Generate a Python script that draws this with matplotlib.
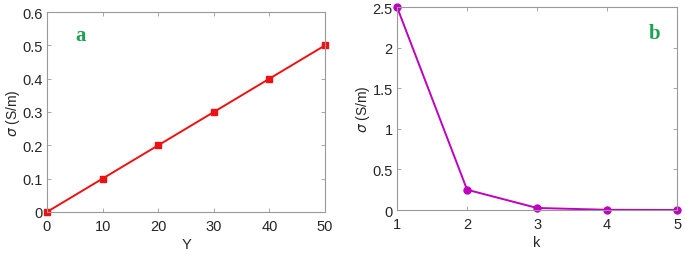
import matplotlib.pyplot as plt

# panel a: sigma vs Y
y_vals = [0, 10, 20, 30, 40, 50]
sigma_a = [0, 0.1, 0.2, 0.3, 0.4, 0.5]

# panel b: sigma vs k
k_vals = [1, 2, 3, 4, 5]
sigma_b = [2.5, 0.25, 0.025, 0.0025, 0.00025]

plt.rcParams['font.family'] = ['Liberation Sans', 'DejaVu Sans']
plt.rcParams['font.size'] = 10.5

fig = plt.figure(figsize=(6.85, 2.55), dpi=100)
ax1 = fig.add_axes([0.0686, 0.165, 0.406, 0.784])
ax2 = fig.add_axes([0.5796, 0.1725, 0.409, 0.796])

ax1.plot(y_vals, sigma_a, color='#ee1111', linewidth=1.4, marker='s', markersize=4.5)
ax1.set_xlim(0, 50)
ax1.set_ylim(0, 0.6)
ax1.set_xticks([0, 10, 20, 30, 40, 50])
ax1.set_yticks([0, 0.1, 0.2, 0.3, 0.4, 0.5, 0.6])
ax1.set_yticklabels(['0', '0.1', '0.2', '0.3', '0.4', '0.5', '0.6'])
ax1.set_xlabel('Y', labelpad=3)
ax1.set_ylabel(r'$\sigma$ (S/m)', labelpad=0, fontsize=10)
ax1.text(6, 0.53, 'a', color='#1fa050', fontsize=15, fontweight='bold',
         family='Liberation Serif', ha='center', va='center')

ax2.plot(k_vals, sigma_b, color='#bf00bf', linewidth=1.4, marker='o', markersize=5)
ax2.set_xlim(1, 5)
ax2.set_ylim(0, 2.5)
ax2.set_xticks([1, 2, 3, 4, 5])
ax2.set_yticks([0, 0.5, 1, 1.5, 2, 2.5])
ax2.set_yticklabels(['0', '0.5', '1', '1.5', '2', '2.5'])
ax2.set_xlabel('k', labelpad=3)
ax2.set_ylabel(r'$\sigma$ (S/m)', labelpad=0, fontsize=10)
ax2.text(4.67, 2.18, 'b', color='#1fa050', fontsize=15, fontweight='bold',
         family='Liberation Serif', ha='center', va='center')

for ax in (ax1, ax2):
    ax.tick_params(direction='in', length=3, width=0.6, colors='#999999',
                   labelcolor='#262626', top=True, right=True, pad=3)
    ax.tick_params(axis='x', pad=5)
    for sp in ax.spines.values():
        sp.set_color('#999999')
        sp.set_linewidth(0.8)
    for m in ax.lines:
        m.set_clip_on(False)
    ax.xaxis.label.set_color('#262626')
    ax.yaxis.label.set_color('#262626')

fig.savefig('out.png', dpi=100)
